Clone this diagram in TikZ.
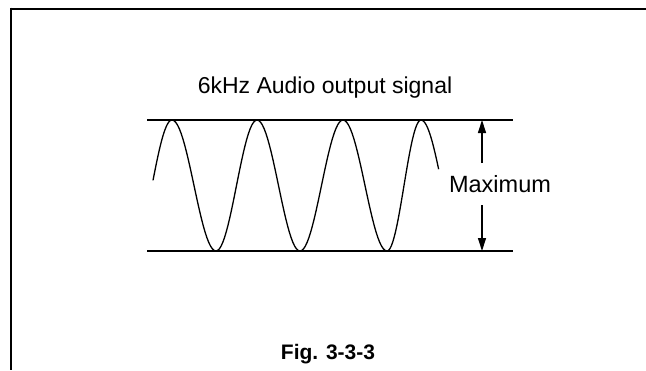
\documentclass[tikz,border=0pt]{standalone}
\usepackage{fontspec}
\setmainfont{Liberation Sans}
\usetikzlibrary{arrows.meta}
\begin{document}
\begin{tikzpicture}[x=1pt,y=-1pt,
  frameline/.style={line width=2.6pt,line cap=butt},
  refline/.style={line width=1.8pt},
  wave/.style={line width=1.3pt,line join=round},
  dimarrow/.style={line width=1.3pt,-{Triangle[length=13pt,width=8pt]}},
  lbl/.style={font=\fontsize{23}{25}\selectfont,inner sep=0pt,anchor=base}]
\useasboundingbox (0,0) rectangle (646,370);
% frame
\coordinate (ftl) at (11,9);
\coordinate (ftr) at (646,9);
\coordinate (fbl) at (11,370);
\draw[frameline] (ftl) -- (ftr);
\draw[frameline] (11,7.7) -- (fbl);
% title
\node[lbl] (title) at (325,93) {6kHz Audio output signal};
% reference lines
\coordinate (tl) at (147,120);
\coordinate (tr) at (513,120);
\coordinate (bl) at (147,251);
\coordinate (br) at (513,251);
\draw[refline] (tl) -- (tr);
\draw[refline] (bl) -- (br);
% wave
\draw[wave]
  plot[domain=0.05:1,samples=20,variable=\t] ({153+19*(\t-0.05)/0.95}, {185.5-65.5*sin(90*\t)})
  -- plot[domain=0:1,samples=25,variable=\t] ({172+44*\t}, {185.5-65.5*cos(180*\t)})
  -- plot[domain=0:1,samples=25,variable=\t] ({216+41*\t}, {185.5+65.5*cos(180*\t)})
  -- plot[domain=0:1,samples=25,variable=\t] ({257+43*\t}, {185.5-65.5*cos(180*\t)})
  -- plot[domain=0:1,samples=25,variable=\t] ({300+43*\t}, {185.5+65.5*cos(180*\t)})
  -- plot[domain=0:1,samples=25,variable=\t] ({343+44*\t}, {185.5-65.5*cos(180*\t)})
  -- plot[domain=0:1,samples=25,variable=\t] ({387+34*\t}, {185.5+65.5*cos(180*\t)})
  -- plot[domain=0:0.42,samples=15,variable=\t] ({421+42*\t}, {185.5-65.5*cos(180*\t)});
% maximum label and arrows
\node[lbl,font=\fontsize{23.5}{25}\selectfont] (max) at (500,192) {Maximum};
\coordinate (aup) at (482,163);
\coordinate (aupend) at (482,120);
\coordinate (adn) at (482,205);
\coordinate (adnend) at (482,251);
\draw[dimarrow] (aup) -- (aupend);
\draw[dimarrow] (adn) -- (adnend);
% caption
\node[lbl,font=\fontsize{21}{23}\selectfont\bfseries] (fig) at (328,359) {Fig. 3-3-3};
\end{tikzpicture}
\end{document}
